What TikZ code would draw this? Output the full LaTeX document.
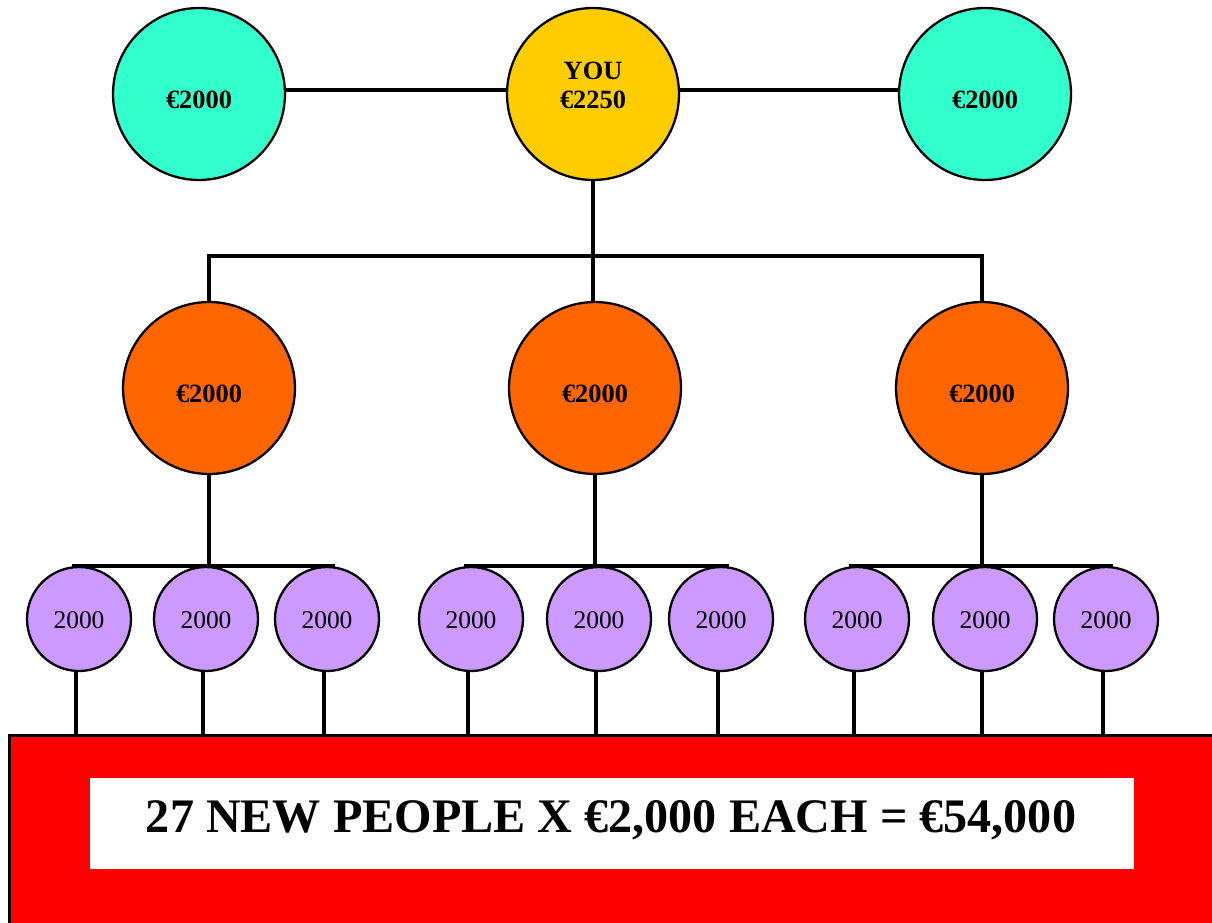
\documentclass[tikz,border=0pt]{standalone}
\usepackage{fontspec}
\setmainfont{Liberation Serif}
\definecolor{tealc}{HTML}{33FFCC}
\definecolor{yellowc}{HTML}{FFCC00}
\definecolor{orangec}{HTML}{FF6600}
\definecolor{purplec}{HTML}{CC99FF}
\definecolor{redc}{HTML}{FF0000}
\begin{document}
\begin{tikzpicture}[x=0.02cm,y=-0.02cm,
  bigball/.style={circle,draw=black,line width=1.3pt,inner sep=0pt,minimum size=3.44cm,text height=16pt,text depth=0pt,font=\fontsize{15}{17}\selectfont\bfseries},
  smallball/.style={circle,draw=black,line width=1.3pt,inner sep=0pt,minimum size=2.08cm,fill=purplec,text height=11pt,text depth=0pt,font=\fontsize{14.5}{17}\selectfont},
  wire/.style={draw=black,line width=1.9pt}]
\useasboundingbox (0,0) rectangle (1212,922);
\clip (0,0) rectangle (1212,922);

% base box
\node[draw=black,fill=redc,line width=1.9pt,inner sep=0pt,minimum width=24.6cm,minimum height=4.3cm,anchor=north west] (base) at (8,734) {};
\node[fill=white,inner sep=0pt,minimum width=20.88cm,minimum height=1.82cm,anchor=north west] (banner) at (90,778) {};
\node[anchor=base,inner sep=0pt,font=\fontsize{27.4}{33}\selectfont\bfseries] (total) at (611,832) {27 NEW PEOPLE X €2,000 EACH = €54,000};

% top row
\node[bigball,fill=tealc] (t1) at (199,94) {€2000};
\node[bigball,fill=yellowc] (you) at (593,94) {};
\node[inner sep=0pt,align=center,font=\fontsize{15}{16.4}\selectfont\bfseries] (youtxt) at (593,85) {YOU\\€2250};
\node[bigball,fill=tealc] (t2) at (985,94) {€2000};

% middle row
\node[bigball,fill=orangec] (o1) at (209,388) {€2000};
\node[bigball,fill=orangec] (o2) at (595,388) {€2000};
\node[bigball,fill=orangec] (o3) at (982,388) {€2000};

% bottom row
\node[smallball] (p11) at (79,619) {2000};
\node[smallball] (p12) at (206,619) {2000};
\node[smallball] (p13) at (327,619) {2000};
\node[smallball] (p21) at (471,619) {2000};
\node[smallball] (p22) at (599,619) {2000};
\node[smallball] (p23) at (721,619) {2000};
\node[smallball] (p31) at (857,619) {2000};
\node[smallball] (p32) at (985,619) {2000};
\node[smallball] (p33) at (1106,619) {2000};

% connectors top
\coordinate (topy) at (0,90);
\draw[wire] (t1.east |- topy) -- (you.west |- topy);
\draw[wire] (you.east |- topy) -- (t2.west |- topy);
\coordinate (hub) at (593,256);
\draw[wire] (you.south) -- (hub);
\draw[wire] (o1.north) |- (hub) -| (o3.north);
\draw[wire] (hub) -- (hub |- o2.north);

% lower buses
\coordinate (busy) at (0,566);
\coordinate (a1) at (72,566);   \coordinate (a2) at (335,566);
\coordinate (b1) at (464,566);  \coordinate (b2) at (729,566);
\coordinate (c1) at (849,566);  \coordinate (c2) at (1113,566);
\draw[wire] (o1.south) -- (o1.south |- busy);
\draw[wire] (o2.south) -- (o2.south |- busy);
\draw[wire] (o3.south) -- (o3.south |- busy);
\draw[wire] (a1) -- (a2);
\draw[wire] (b1) -- (b2);
\draw[wire] (c1) -- (c2);

% drops to base
\foreach \p in {p11,p12,p13,p21,p22,p23,p31,p32,p33}
  \draw[wire] ([xshift=-0.06cm]\p.south) -- ([xshift=-0.06cm]\p.south |- base.north);
\end{tikzpicture}
\end{document}
